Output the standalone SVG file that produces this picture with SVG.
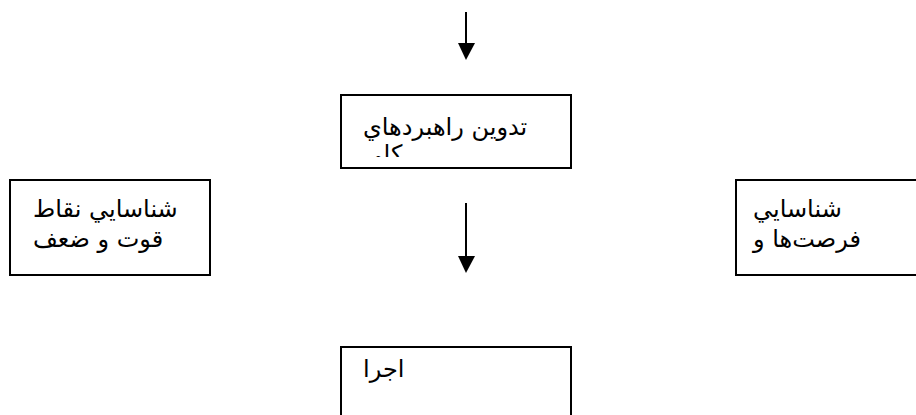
<svg xmlns="http://www.w3.org/2000/svg" width="916" height="415" viewBox="0 0 916 415">
<style>
.box{fill:#fff;stroke:#000;stroke-width:2}
.t{font-family:"DejaVu Sans","Liberation Sans",sans-serif;font-size:24px;fill:#000}
.ln{stroke:#000;stroke-width:2}
</style>
<defs>
<clipPath id="clipTop"><rect x="342" y="96" width="228" height="61"/></clipPath>
</defs>
<rect width="916" height="415" fill="#fff"/>
<g id="connectors">
<line class="ln" x1="466" y1="12" x2="466" y2="45"/>
<polygon points="458,43 475,43 466,60" fill="#000"/>
<line class="ln" x1="466" y1="203" x2="466" y2="258"/>
<polygon points="458,256 475,256 466,273" fill="#000"/>
</g>
<g id="node-strategy">
<rect class="box" x="341" y="95" width="230" height="73"/>
<g clip-path="url(#clipTop)">
<text class="t" x="363" y="135">تدوين راهبردهاي</text>
<text class="t" x="363" y="162">كلي</text>
</g>
</g>
<g id="node-strengths">
<rect class="box" x="10" y="180" width="200" height="95"/>
<text class="t" x="33" y="217">شناسايي نقاط</text>
<text class="t" x="33" y="247">قوت و ضعف</text>
</g>
<g id="node-opportunities">
<rect class="box" x="736" y="180" width="200" height="95"/>
<text class="t" x="753" y="217">شناسايي</text>
<text class="t" x="753" y="247">فرصت‌ها و</text>
</g>
<g id="node-execute">
<rect class="box" x="341" y="347" width="230" height="80"/>
<text class="t" x="363" y="377">اجرا</text>
</g>
</svg>
